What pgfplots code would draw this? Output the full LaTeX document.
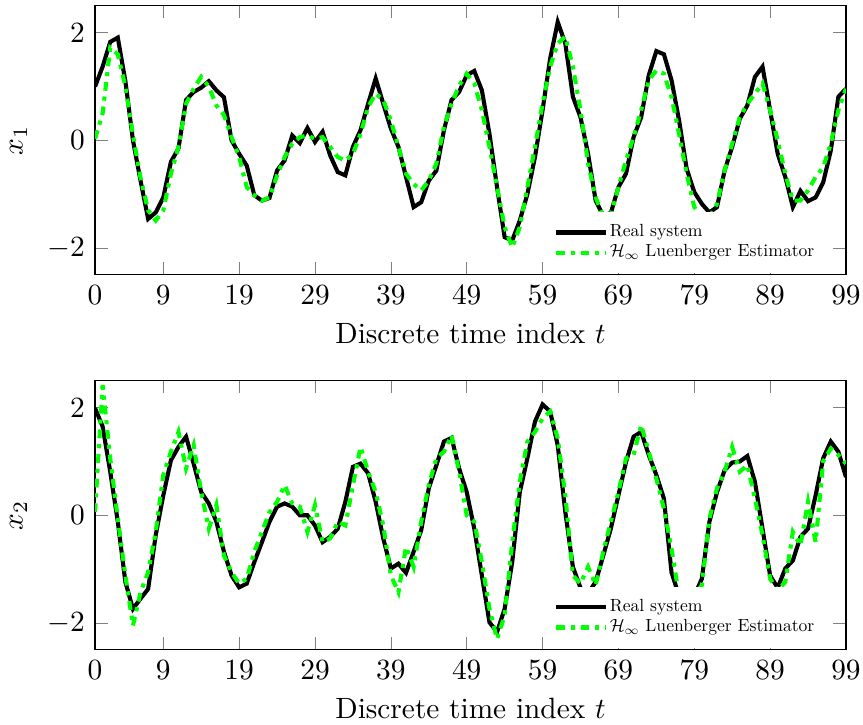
\documentclass[border=0pt]{standalone}
\usepackage{pgfplots}
\pgfplotsset{compat=1.18}
\usepackage{pgfplotstable}

\newcommand\legtxt[1]{\scalebox{0.6}{\normalsize #1}}

\pgfplotstableread{
t r e
0 1.0 0.03
1 1.37 0.5
2 1.83 1.72
3 1.91 1.6
4 1.1 1.0
5 0.0 0.1
6 -0.75 -0.7
7 -1.46 -1.3
8 -1.34 -1.49
9 -1.06 -1.3
10 -0.4 -0.62
11 -0.15 -0.12
12 0.75 0.68
13 0.9 0.96
14 0.98 1.18
15 1.1 1.0
16 0.93 0.65
17 0.8 0.47
18 0.0 0.06
19 -0.25 -0.31
20 -0.47 -0.87
21 -1.02 -1.02
22 -1.12 -1.12
23 -1.07 -1.06
24 -0.56 -0.65
25 -0.37 -0.31
26 0.09 -0.06
27 -0.05 0.06
28 0.23 0.09
29 -0.03 0.03
30 0.16 0.06
31 -0.28 -0.12
32 -0.59 -0.31
33 -0.65 -0.38
34 -0.12 -0.25
35 0.19 0.12
36 0.68 0.62
37 1.15 0.87
38 0.68 0.75
39 0.22 0.37
40 -0.12 -0.12
41 -0.68 -0.62
42 -1.24 -0.81
43 -1.15 -0.93
44 -0.75 -0.75
45 -0.56 -0.43
46 0.19 0.25
47 0.75 0.68
48 0.9 1.02
49 1.21 1.24
50 1.29 1.06
51 0.93 0.56
52 0.12 -0.12
53 -0.87 -0.87
54 -1.8 -1.61
55 -1.86 -1.99
56 -1.49 -1.61
57 -1.0 -0.87
58 -0.31 -0.12
59 0.56 0.68
60 1.52 1.37
61 2.2 1.8
62 1.8 1.93
63 0.81 1.37
64 0.43 0.56
65 -0.25 -0.43
66 -1.12 -1.06
67 -1.4 -1.42
68 -1.35 -1.38
69 -0.87 -0.87
70 -0.62 -0.37
71 0.06 0.06
72 0.43 0.56
73 1.21 1.12
74 1.66 1.3
75 1.6 1.24
76 1.12 0.81
77 0.37 0.12
78 -0.53 -0.62
79 -0.96 -1.24
80 -1.18 -1.43
81 -1.34 -1.43
82 -1.24 -1.18
83 -0.56 -0.56
84 -0.12 -0.06
85 0.40 0.43
86 0.65 0.68
87 1.18 0.87
88 1.37 1.06
89 0.56 0.56
90 -0.25 0.0
91 -0.68 -0.62
92 -1.24 -1.12
93 -0.94 -1.12
94 -1.13 -0.93
95 -1.06 -0.68
96 -0.78 -0.5
97 -0.19 -0.06
98 0.81 0.56
99 0.96 0.96
}\xone

\pgfplotstableread{
t r e
0 1.99 0.06
1 1.65 2.42
2 0.81 1.06
3 -0.12 -0.06
4 -1.24 -1.12
5 -1.74 -2.05
6 -1.55 -1.43
7 -1.37 -1.06
8 -0.37 -0.31
9 0.37 0.75
10 1.02 1.18
11 1.27 1.55
12 1.46 0.87
13 0.96 1.3
14 0.43 0.43
15 0.22 -0.25
16 -0.12 0.19
17 -0.68 -0.75
18 -1.12 -1.06
19 -1.34 -1.27
20 -1.27 -1.18
21 -0.87 -0.68
22 -0.5 -0.31
23 -0.12 0.06
24 0.16 0.25
25 0.22 0.56
26 0.16 0.22
27 0.0 0.16
28 0.0 -0.31
29 -0.19 0.19
30 -0.5 -0.5
31 -0.4 -0.43
32 -0.25 -0.12
33 0.25 -0.19
34 0.9 0.56
35 0.96 1.27
36 0.78 0.81
37 0.25 0.43
38 -0.43 -0.19
39 -0.99 -1.12
40 -0.9 -1.43
41 -1.07 -0.59
42 -0.68 -0.96
43 -0.28 -0.12
44 0.5 0.56
45 0.93 1.06
46 1.37 1.18
47 1.44 1.49
48 0.87 0.81
49 0.43 0.0
50 -0.25 -0.12
51 -1.12 -0.87
52 -1.99 -1.74
53 -2.17 -2.3
54 -1.74 -1.86
55 -0.87 -0.5
56 0.43 0.62
57 1.06 1.37
58 1.74 1.55
59 2.06 1.8
60 1.93 1.93
61 1.3 1.43
62 0.06 0.37
63 -0.96 -1.12
64 -1.35 -1.27
65 -1.45 -0.96
66 -1.24 -1.3
67 -0.75 -0.68
68 -0.25 -0.12
69 0.37 0.43
70 0.99 1.06
71 1.46 1.12
72 1.55 1.68
73 1.12 1.18
74 0.75 0.68
75 0.31 0.12
76 -1.06 -0.62
77 -1.5 -1.5
78 -1.6 -1.6
79 -1.5 -1.5
80 -1.18 -1.3
81 -0.12 -0.06
82 0.43 0.5
83 0.84 0.81
84 0.98 1.27
85 1.0 0.81
86 1.1 0.93
87 0.62 0.31
88 -0.25 -0.37
89 -1.12 -1.18
90 -1.35 -1.4
91 -0.99 -1.24
92 -0.84 -0.31
93 -0.4 -0.56
94 -0.25 0.25
95 0.37 -0.5
96 1.06 1.0
97 1.37 1.24
98 1.18 1.12
99 0.71 0.96
}\xtwo

\pgfplotsset{
  myaxis/.style={
    scale only axis,
    width=256pt, height=91.7pt,
    xmin=0, xmax=99, ymin=-2.5, ymax=2.5,
    xtick={0,9,19,29,39,49,59,69,79,89,99},
    ytick={-2,0,2},
    xlabel={Discrete time index $t$},
    xlabel style={yshift=0.5pt},
    legend style={at={(0.965,0.005)}, anchor=south east, draw=none, fill=white,
      font=\fontsize{6}{7}\selectfont, inner xsep=1pt, inner ysep=3.5pt,
      nodes={inner sep=0.6pt}},
    legend cell align=left,
  }
}

\begin{document}
\begin{tikzpicture}
\begin{axis}[myaxis, ylabel={$x_1$}]
\addplot[black, line width=1.4pt] table[x=t, y=r] {\xone};
\addlegendentry{\legtxt{Real system}}
\addplot[green, line width=1.4pt, dashdotted] table[x=t, y=e] {\xone};
\addlegendentry{\legtxt{$\mathcal{H}_\infty$ Luenberger Estimator}}
\end{axis}
\begin{axis}[myaxis, at={(0,-127.8pt)}, ylabel={$x_2$}]
\addplot[black, line width=1.4pt] table[x=t, y=r] {\xtwo};
\addlegendentry{\legtxt{Real system}}
\addplot[green, line width=1.4pt, dashdotted] table[x=t, y=e] {\xtwo};
\addlegendentry{\legtxt{$\mathcal{H}_\infty$ Luenberger Estimator}}
\end{axis}
\pgfresetboundingbox
\path[use as bounding box] (-32.4pt,93.7pt) rectangle (261.8pt,-153.4pt);
\end{tikzpicture}
\end{document}
